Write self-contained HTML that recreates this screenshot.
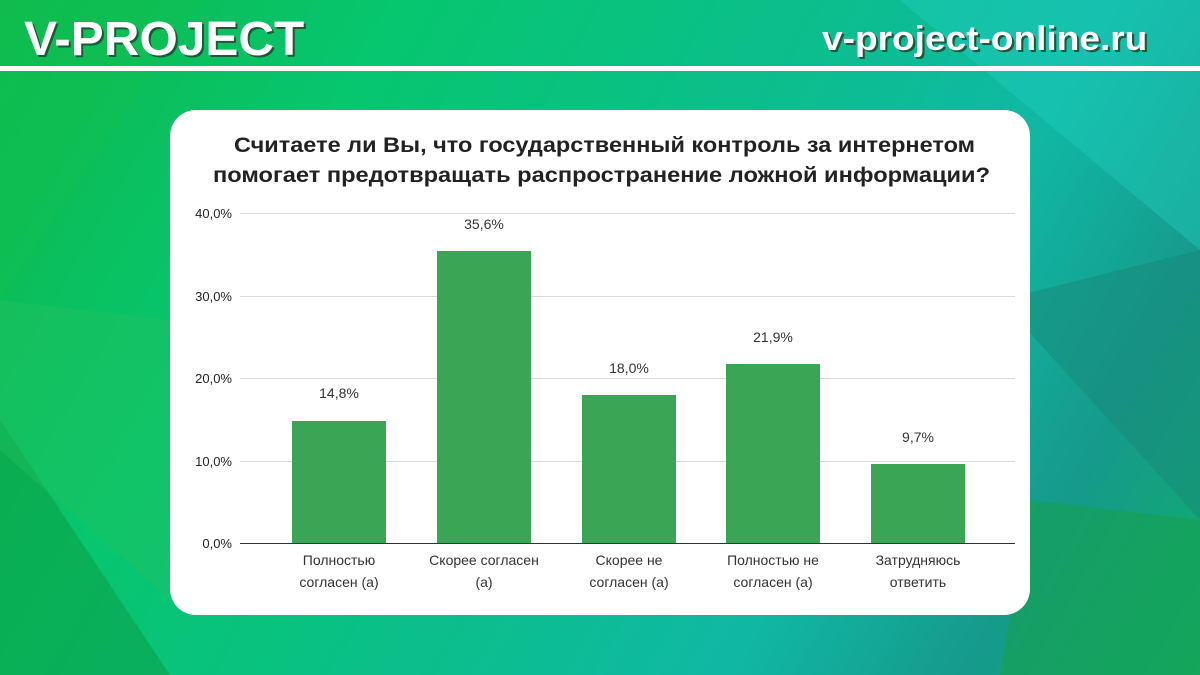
<!DOCTYPE html>
<html><head><meta charset="utf-8"><style>
body{margin:0;width:1200px;height:675px;overflow:hidden;position:relative;font-family:"Liberation Sans",sans-serif;
background:linear-gradient(120deg,#0fb84a 0%,#06c66e 25%,#0abf8a 50%,#10b8a4 70%,#169a8c 85%,#0fae6a 100%);}
.bg{position:absolute;inset:0}
.h1{position:absolute;left:24px;top:12px;font-size:48px;font-weight:bold;color:#fff;text-shadow:2px 2px 0 #1a5a3a;transform:scaleX(1.03);transform-origin:left}
.h2{position:absolute;left:822px;top:20px;font-size:34px;font-weight:bold;color:#fff;text-shadow:2px 2px 0 #1a5a3a;transform:scaleX(1.09);transform-origin:left}
.line{position:absolute;left:0;top:66px;width:1200px;height:5px;background:#fff}
.card{position:absolute;left:170px;top:110px;width:860px;height:505px;background:#fff;border-radius:26px}
</style></head><body>
<svg class="bg" width="1200" height="675">
<polygon points="0,0 200,0 0,300" fill="#10c050" opacity=".5"/>
<polygon points="900,0 1200,0 1200,250" fill="#20d0c0" opacity=".4"/>
<polygon points="1000,300 1200,250 1200,520" fill="#178878" opacity=".5"/>
<polygon points="0,420 170,675 0,675" fill="#0c9a40" opacity=".5"/>
<polygon points="1030,500 1200,520 1200,675 1000,675" fill="#18a050" opacity=".6"/>
<polygon points="0,300 170,320 170,600 0,450" fill="#22c060" opacity=".4"/>
</svg>
<div class="h1">V-PROJECT</div>
<div class="h2">v-project-online.ru</div>
<div class="line"></div>
<div class="card"></div>
<svg style="position:absolute;left:0;top:0" width="1200" height="675" font-family="Liberation Sans, sans-serif">
<text x="234" y="152" textLength="741" lengthAdjust="spacingAndGlyphs" font-size="21" font-weight="bold" fill="#222">Считаете ли Вы, что государственный контроль за интернетом</text>
<text x="213" y="182" textLength="777" lengthAdjust="spacingAndGlyphs" font-size="21" font-weight="bold" fill="#222">помогает предотвращать распространение ложной информации?</text>
<g stroke="#d9d9d9" stroke-width="1">
<line x1="240" x2="1015" y1="213.5" y2="213.5"/><line x1="240" x2="1015" y1="296.5" y2="296.5"/>
<line x1="240" x2="1015" y1="378.5" y2="378.5"/><line x1="240" x2="1015" y1="461.5" y2="461.5"/>
</g>
<line x1="240" x2="1015" y1="543.5" y2="543.5" stroke="#333"/>
<g font-size="13" fill="#222" text-anchor="end">
<text x="232" y="218">40,0%</text><text x="232" y="301">30,0%</text><text x="232" y="383">20,0%</text><text x="232" y="466">10,0%</text><text x="232" y="548">0,0%</text>
</g>
<g fill="#3aa655">
<rect x="292" y="421" width="94" height="122"/>
<rect x="437" y="251" width="94" height="292"/>
<rect x="582" y="395" width="94" height="148"/>
<rect x="726" y="364" width="94" height="179"/>
<rect x="871" y="464" width="94" height="79"/>
</g>
<g font-size="14" fill="#333" text-anchor="middle">
<text x="339" y="398">14,8%</text><text x="484" y="229">35,6%</text><text x="629" y="373">18,0%</text><text x="773" y="342">21,9%</text><text x="918" y="442">9,7%</text>
<text x="339" y="565">Полностью</text><text x="339" y="587">согласен (а)</text>
<text x="484" y="565">Скорее согласен</text><text x="484" y="587">(а)</text>
<text x="629" y="565">Скорее не</text><text x="629" y="587">согласен (а)</text>
<text x="773" y="565">Полностью не</text><text x="773" y="587">согласен (а)</text>
<text x="918" y="565">Затрудняюсь</text><text x="918" y="587">ответить</text>
</g>
</svg>
</body></html>
